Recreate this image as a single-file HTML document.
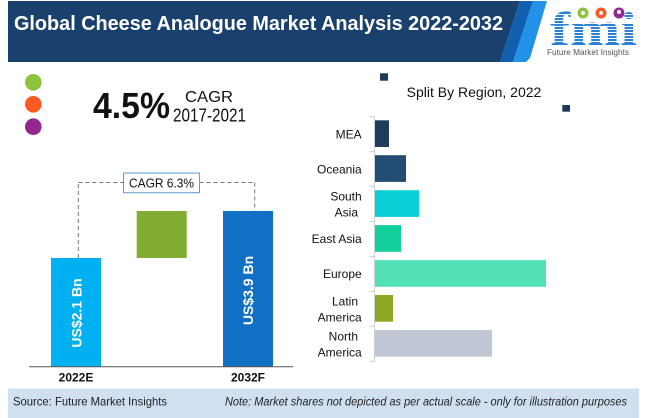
<!DOCTYPE html>
<html>
<head>
<meta charset="utf-8">
<style>
  html,body{margin:0;padding:0;background:#fff;}
  svg{display:block;}
  text{font-family:"Liberation Sans",sans-serif;}
</style>
</head>
<body>
<svg width="650" height="418" viewBox="0 0 650 418" xmlns="http://www.w3.org/2000/svg">
  <rect x="0" y="0" width="650" height="418" fill="#ffffff"/>

  <!-- Header band -->
  <polygon points="8,1 520,1 500,62 8,62" fill="#1a416e"/>
  <polygon points="520,1 533,1 513,62 500,62" fill="#115fae"/>
  <polygon points="533,1 547,1 530,58 526,62 513,62" fill="#2192e8"/>
  <text x="14" y="30" font-size="20" font-weight="bold" fill="#ffffff" textLength="489" lengthAdjust="spacingAndGlyphs">Global Cheese Analogue Market Analysis 2022-2032</text>

  <!-- Logo -->
  <text x="550" y="45" font-family="Liberation Serif, serif" font-size="48" font-weight="bold" fill="#2a80d6" textLength="87" lengthAdjust="spacingAndGlyphs" style="font-family:'Liberation Serif',serif">fmi</text>
  <g stroke="#ffffff" stroke-width="1">
    <line x1="548" y1="14.5" x2="640" y2="14.5"/>
    <line x1="548" y1="17.5" x2="640" y2="17.5"/>
    <line x1="548" y1="20.5" x2="640" y2="20.5"/>
    <line x1="548" y1="23.5" x2="640" y2="23.5"/>
    <line x1="548" y1="26.5" x2="640" y2="26.5"/>
    <line x1="548" y1="29.5" x2="640" y2="29.5"/>
    <line x1="548" y1="32.5" x2="640" y2="32.5"/>
    <line x1="548" y1="35.5" x2="640" y2="35.5"/>
    <line x1="548" y1="38.5" x2="640" y2="38.5"/>
    <line x1="548" y1="41.5" x2="640" y2="41.5"/>
  </g>
  <circle cx="583" cy="13" r="5.5" fill="#8cc43c"/>
  <circle cx="601" cy="13" r="5.5" fill="#fc5a23"/>
  <circle cx="619" cy="13" r="5.5" fill="#93268f"/>
  <circle cx="583" cy="13" r="2" fill="#ffffff"/>
  <circle cx="601" cy="13" r="2" fill="#ffffff"/>
  <circle cx="619" cy="12" r="2" fill="#ffffff"/>
  <text x="547" y="55" font-size="8" fill="#555555" textLength="82" lengthAdjust="spacingAndGlyphs">Future Market Insights</text>

  <!-- Left-top circles -->
  <circle cx="33.3" cy="82.3" r="8.3" fill="#8cc43c"/>
  <circle cx="33.3" cy="104.3" r="8.3" fill="#fc5a23"/>
  <circle cx="33.3" cy="126.7" r="8.3" fill="#93268f"/>

  <!-- 4.5% CAGR -->
  <text x="93" y="118" font-size="36" font-weight="bold" fill="#111111" textLength="77" lengthAdjust="spacingAndGlyphs">4.5%</text>
  <text x="185" y="102" font-size="16" fill="#111111" textLength="48" lengthAdjust="spacingAndGlyphs">CAGR</text>
  <text x="173" y="121.5" font-size="18" fill="#111111" textLength="73" lengthAdjust="spacingAndGlyphs">2017-2021</text>

  <!-- Left chart -->
  <g stroke="#777777" stroke-width="1" stroke-dasharray="4,3" fill="none">
    <line x1="78.3" y1="258" x2="78.3" y2="182.5"/>
    <line x1="78.3" y1="182.5" x2="123.5" y2="182.5"/>
    <line x1="199.5" y1="182.5" x2="254.7" y2="182.5"/>
    <line x1="254.7" y1="182.5" x2="254.7" y2="211"/>
  </g>
  <rect x="123.5" y="173" width="76" height="19.7" fill="#ffffff" stroke="#5b9bd5" stroke-width="1"/>
  <text x="161.5" y="187.3" font-size="13" fill="#111111" text-anchor="middle" textLength="65" lengthAdjust="spacingAndGlyphs">CAGR 6.3%</text>

  <rect x="51" y="258" width="50" height="108.5" fill="#00b0f0"/>
  <rect x="136.7" y="211" width="50" height="47" fill="#80ad32"/>
  <rect x="223" y="211" width="50" height="155.5" fill="#1170c4"/>
  <line x1="29" y1="366.8" x2="293" y2="366.8" stroke="#555555" stroke-width="1"/>

  <text transform="translate(81.5,313) rotate(-90)" font-size="14" font-weight="bold" fill="#ffffff" text-anchor="middle">US$2.1 Bn</text>
  <text transform="translate(253,290.5) rotate(-90)" font-size="14" font-weight="bold" fill="#ffffff" text-anchor="middle">US$3.9 Bn</text>

  <text x="76" y="381.7" font-size="12" font-weight="bold" fill="#111111" text-anchor="middle">2022E</text>
  <text x="248" y="381.7" font-size="12" font-weight="bold" fill="#111111" text-anchor="middle">2032F</text>

  <!-- Right chart -->
  <rect x="380" y="73.3" width="8" height="7.4" fill="#1c3a5a"/>
  <rect x="562.3" y="105" width="7.7" height="6.7" fill="#1c3a5a"/>
  <text x="474" y="97" font-size="14" fill="#111111" text-anchor="middle">Split By Region, 2022</text>

  <g stroke="#d0d0d0" stroke-width="1">
    <line x1="374.5" y1="116.7" x2="374.5" y2="361.7"/>
    <line x1="369.3" y1="116.7" x2="374.5" y2="116.7"/>
    <line x1="369.3" y1="151.6" x2="374.5" y2="151.6"/>
    <line x1="369.3" y1="186.6" x2="374.5" y2="186.6"/>
    <line x1="369.3" y1="221.5" x2="374.5" y2="221.5"/>
    <line x1="369.3" y1="256.5" x2="374.5" y2="256.5"/>
    <line x1="369.3" y1="291.4" x2="374.5" y2="291.4"/>
    <line x1="369.3" y1="326.4" x2="374.5" y2="326.4"/>
    <line x1="369.3" y1="361.3" x2="374.5" y2="361.3"/>
  </g>

  <rect x="375" y="120.3" width="14" height="26.7" fill="#1e3d5e"/>
  <rect x="375" y="155.2" width="31" height="26.7" fill="#234c72"/>
  <rect x="375" y="190.2" width="44" height="26.7" fill="#0dcfd8"/>
  <rect x="375" y="225.1" width="26" height="26.7" fill="#13cf9b"/>
  <rect x="375" y="260.1" width="171" height="26.7" fill="#52e0b7"/>
  <rect x="375" y="295.0" width="18" height="26.7" fill="#8fa822"/>
  <rect x="375" y="330.0" width="117" height="26.7" fill="#c1c7d4"/>

  <g font-size="12" fill="#111111" text-anchor="end">
    <text x="361.7" y="138.3">MEA</text>
    <text x="361.7" y="173.3">Oceania</text>
    <text x="361.7" y="200.7">South</text>
    <text x="358" y="216.7">Asia</text>
    <text x="361.7" y="243.2">East Asia</text>
    <text x="361.7" y="278.2">Europe</text>
    <text x="358" y="305.6">Latin</text>
    <text x="361.7" y="321.6">America</text>
    <text x="358" y="340.6">North</text>
    <text x="361.7" y="356.6">America</text>
  </g>

  <!-- Footer -->
  <rect x="8" y="388.5" width="631" height="29.5" fill="#d0e0f1"/>
  <text x="13" y="405.7" font-size="12" fill="#222222" textLength="154" lengthAdjust="spacingAndGlyphs">Source: Future Market Insights</text>
  <text x="225" y="405.7" font-size="12" font-style="italic" fill="#222222" textLength="402" lengthAdjust="spacingAndGlyphs">Note: Market shares not depicted as per actual scale - only for illustration purposes</text>
</svg>
</body>
</html>
